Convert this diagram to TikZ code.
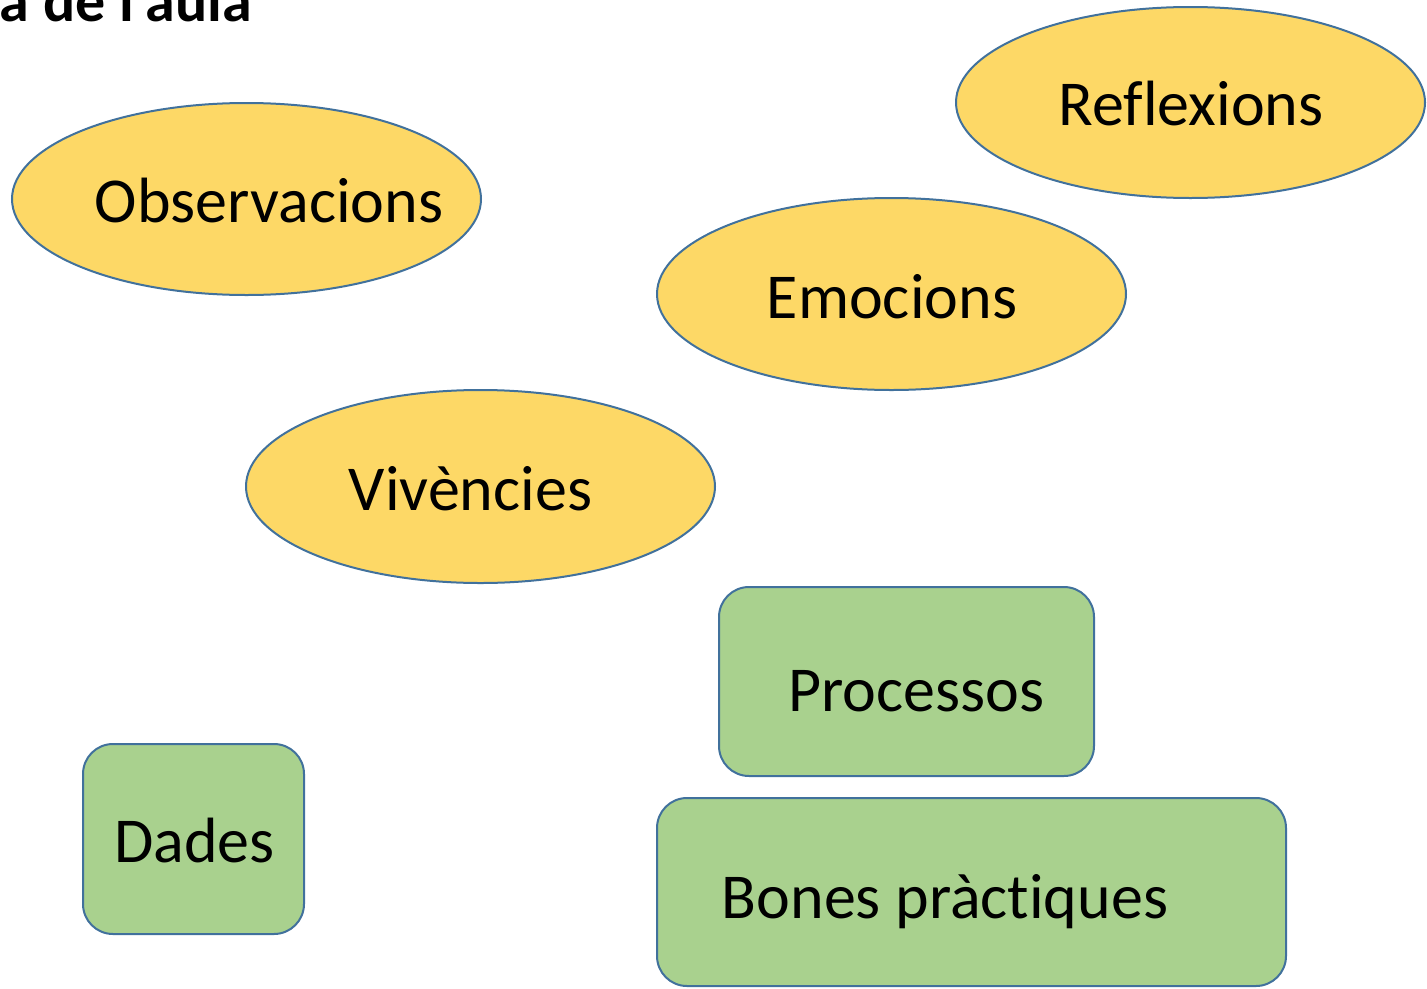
\documentclass[tikz,border=0pt]{standalone}
\usepackage{fontspec}
\setmainfont{Carlito}[Ligatures=NoCommon]
\usetikzlibrary{shapes.geometric}
\definecolor{ellfill}{HTML}{FDD866}
\definecolor{boxfill}{HTML}{A9D18E}
\definecolor{edge}{HTML}{41719C}
\tikzset{
  ell/.style={ellipse, draw=edge, fill=ellfill, line width=2pt, inner sep=0pt},
  rbox/.style={rectangle, rounded corners=30pt, draw=edge, fill=boxfill, line width=2pt, inner sep=0pt},
  lbl/.style={anchor=base, inner sep=0pt, font=\fontsize{64}{76}\selectfont},
}
\begin{document}
\begin{tikzpicture}[x=1pt,y=-1pt]
\useasboundingbox (0,0) rectangle (1427,988);
\node[anchor=base east, inner sep=0pt, font=\fontsize{60}{72}\selectfont\bfseries] (title) at (252,21) {a de l'aula};
\node[ell, minimum width=469pt, minimum height=192pt] (obs) at (246.5,199) {};
\node[ell, minimum width=469pt, minimum height=191pt] (ref) at (1190.5,102.5) {};
\node[ell, minimum width=469pt, minimum height=192pt] (emo) at (891.5,294) {};
\node[ell, minimum width=469pt, minimum height=193pt] (viv) at (480.5,486.5) {};
\node[rbox, minimum width=375pt, minimum height=189pt] (pro) at (906.5,681.5) {};
\node[rbox, minimum width=221pt, minimum height=190pt] (dad) at (193.5,839) {};
\node[rbox, minimum width=629pt, minimum height=188pt] (bon) at (971.5,892) {};
\node[lbl] (tobs) at (269,222) {Observacions};
\node[lbl] (tref) at (1191,125) {Reflexions};
\node[lbl] (temo) at (892,318) {Emocions};
\node[lbl] (tviv) at (470.5,510) {Vivències};
\node[lbl] (tpro) at (916.5,711) {Processos};
\node[lbl] (tdad) at (194.5,862) {Dades};
\node[lbl] (tbon) at (945,918) {Bones pràctiques};
\end{tikzpicture}
\end{document}
